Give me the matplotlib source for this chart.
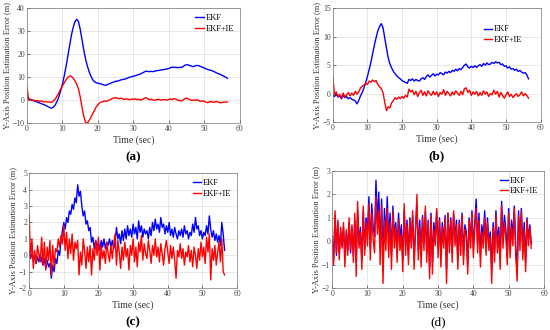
import matplotlib
matplotlib.use("Agg")
import matplotlib.pyplot as plt
import numpy as np

plt.rcParams['font.family'] = ['Liberation Serif', 'DejaVu Serif']

# (a) sampled every 0.5 s
a_ekf = [1.0, 0.6, 0.3, 0.0, -0.3, -0.6, -0.9, -1.2, -1.5, -1.8, -2.1, -2.5, -2.9, -3.3, -3.5, -3.0,
         -2.0, -0.5, 1.5, 4.0, 7.0, 10.5, 14.5, 19.0, 23.5, 28.0, 31.5, 34.0, 35.2, 34.3, 31.0, 26.5,
         22.0, 18.0, 15.0, 12.5, 10.5, 9.0, 8.0, 7.6, 7.4, 7.2, 7.0, 6.7, 6.5, 6.6, 7.0, 7.3,
         7.6, 7.9, 8.2, 8.3, 8.5, 8.8, 9.0, 9.1, 9.4, 9.7, 10.0, 10.2, 10.4, 10.6, 10.9, 11.1,
         11.4, 11.8, 12.2, 12.6, 12.5, 12.4, 12.5, 12.4, 12.6, 12.8, 12.9, 13.0, 13.2, 13.3, 13.4, 13.6,
         13.8, 14.1, 14.4, 14.2, 14.3, 14.1, 14.3, 14.2, 14.6, 15.2, 15.4, 15.3, 15.0, 14.7, 14.6, 15.0,
         15.1, 14.9, 14.6, 14.3, 14.0, 13.6, 13.3, 13.1, 12.9, 12.6, 12.2, 11.8, 11.5, 11.2, 10.8, 10.4,
         10.0, 9.5]
a_ie = [5.5, 0.3, 0.2, -0.2, 0.0, -0.3, -0.2, -0.5, -0.4, -0.6, -0.8, -0.7, -0.9, -0.8, -1.0, -0.3,
        0.5, 1.8, 3.2, 4.8, 6.2, 7.5, 8.8, 9.8, 10.5, 10.4, 9.6, 8.5, 7.0, 5.0, 1.5, -3.0,
        -7.0, -9.5, -10.0, -9.0, -7.5, -6.0, -4.5, -3.0, -2.0, -1.2, -0.8, -0.6, -0.3, -0.5, -0.1, 0.3,
        0.6, 0.9, 1.1, 0.8, 0.6, 0.9, 0.5, 0.3, 0.6, 0.4, 0.2, 0.5, 0.3, 0.6, 0.2, 0.4,
        0.0, 0.3, 0.7, 1.1, 0.6, 0.2, 0.4, 0.1, -0.1, 0.2, 0.4, 0.1, 0.0, 0.3, 0.2, 0.0,
        0.3, 0.5, 0.2, 0.7, 0.4, 0.0, -0.2, -0.4, 0.1, 0.6, 0.9, 0.5, 0.2, -0.2, 0.1, -0.1,
        0.2, -0.3, -0.5, -0.3, -0.6, -0.9, -1.1, -0.7, -0.6, -1.0, -0.8, -0.6, -0.9, -1.2, -1.0, -0.9,
        -0.8, -0.9]

# (b) sampled every 0.5 s
b_ekf = [-0.3, -0.5, -0.1, -0.6, -0.4, -0.9, -0.3, -0.7, -0.5, -0.9, -0.7, -1.0, -1.1, -1.3, -1.8, -1.2,
         -0.4, 0.2, 1.0, 1.9, 3.0, 4.2, 5.5, 7.0, 8.5, 9.8, 11.0, 11.8, 12.3, 11.6, 9.8, 8.0,
         6.3, 5.2, 4.5, 3.9, 3.5, 3.1, 2.8, 2.6, 2.3, 2.1, 2.0, 1.8, 2.5, 2.3, 2.6, 2.2,
         2.5, 2.3, 2.2, 2.6, 2.8, 2.5, 3.0, 3.3, 2.9, 3.2, 3.5, 3.1, 3.4, 3.3, 3.7, 3.5,
         3.3, 3.8, 3.6, 3.9, 3.7, 4.1, 3.9, 4.3, 4.0, 4.4, 4.2, 4.6, 5.0, 5.2, 4.7, 4.5,
         4.8, 4.6, 4.9, 4.6, 4.9, 5.1, 4.8, 5.3, 5.0, 5.4, 5.1, 5.2, 5.5, 5.3, 5.6, 5.4,
         5.5, 5.1, 5.2, 4.8, 4.9, 4.5, 4.7, 4.3, 4.4, 4.1, 4.3, 3.9, 4.1, 3.8, 3.6, 3.7,
         3.3, 2.6]
b_ie = [3.0, -0.2, 0.3, -0.5, -0.1, -0.8, 0.1, -0.6, -0.2, 0.2, -0.4, 0.1, -0.3, 0.4, -0.1, 0.3,
        1.0, 1.3, 1.5, 1.8, 1.6, 2.2, 2.0, 2.4, 2.1, 2.3, 1.6, 1.2, 0.9, 0.2, -1.5, -3.0,
        -2.3, -2.5, -1.6, -1.2, -0.7, -1.0, -0.6, -0.9, -0.5, -0.8, -0.3, -0.6, 0.8, 0.3, 0.6, -0.2,
        0.4, -0.5, 0.2, 0.6, -0.3, 0.3, -0.4, 0.5, 0.0, -0.3, 0.4, -0.2, 0.3, -0.5, 0.2, -0.1,
        0.7, -0.3, 0.4, 0.0, -0.4, 0.3, -0.2, 0.5, 0.1, -0.3, 0.4, -0.2, 0.9, 1.0, 0.2, 0.6,
        -0.3, 0.3, -0.1, 0.4, -0.4, 0.2, -0.3, 0.5, -0.1, 0.3, -0.5, 0.0, -0.2, 0.6, -0.1, 0.4,
        -0.6, 0.2, -0.3, -0.8, -0.2, 0.3, -0.5, -0.1, -0.7, -0.3, 0.0, -0.5, -0.2, 0.3, -0.4, 0.0,
        -0.3, -0.8]

# (c) sampled every 0.4 s
c_ekf = [0.3, -0.2, 0.1, -0.3, 0.0, -0.5, -0.1, -0.4, 0.1, -0.3,
         -0.6, -0.2, -0.8, -0.3, -0.7, -0.5, -1.4, -0.6, -1.0, -0.2,
         -0.5, 0.3, 0.0, 0.9, 1.5, 2.0, 1.6, 2.3, 2.0, 2.7,
         2.5, 3.1, 2.8, 3.5, 3.2, 4.3, 3.6, 3.9, 3.0, 2.4,
         2.7, 1.9, 2.1, 1.5, 1.7, 0.8, 1.1, 0.4, 0.9, 0.5,
         0.8, 0.3, 0.9, 0.5, 1.0, 0.4, 0.8, 0.6, 1.0, 0.5,
         0.9, 0.4, 0.8, 1.7, 1.0, 1.3, 0.7, 1.5, 0.9, 1.6,
         1.0, 1.8, 1.2, 1.6, 1.1, 1.9, 1.3, 1.7, 1.0, 2.1,
         1.4, 1.8, 1.1, 1.6, 1.3, 1.5, 1.0, 1.7, 1.2, 2.0,
         1.5, 2.2, 1.6, 1.9, 1.4, 2.3, 1.7, 1.9, 1.3, 1.8,
         1.4, 2.0, 1.2, 1.6, 1.1, 1.7, 1.3, 1.0, 1.5, 1.2,
         1.6, 1.1, 1.8, 1.3, 1.5, 1.0, 1.4, 1.2, 1.9, 1.4,
         2.3, 1.6, 1.8, 1.2, 1.5, 1.0, 1.4, 1.2, 1.8, 1.3,
         2.4, 1.6, 1.1, 1.5, 0.9, 1.3, 0.8, 1.2, 0.6, 2.0,
         1.3, 0.3]
c_ie = [2.5, -0.2, 1.0, -0.8, 0.3, -0.5, 0.6, 0.0, -0.4, 1.1,
        -0.6, 0.8, -0.9, 0.5, -0.3, 0.9, -1.2, 0.6, -0.7, 0.4,
        0.2, 1.0, 0.5, 1.2, 0.7, 1.8, 0.3, 1.4, -0.2, 1.0,
        0.1, 1.3, -0.3, 0.8, 0.4, 0.9, -1.2, 0.2, -0.6, 1.0,
        0.3, -0.8, 0.5, -0.4, 0.6, -1.2, 0.4, -0.3, 0.9, 0.0,
        1.1, -0.9, 0.6, -0.2, 0.3, -0.5, 0.8, 0.1, -0.4, 0.6,
        -0.2, 0.7, 1.3, -0.6, 0.9, 0.2, -0.8, 0.5, -0.3, 0.8,
        -0.1, 0.4, -0.9, 0.6, 0.0, 1.0, -0.4, 0.5, -0.7, 0.8,
        0.2, 1.2, -0.3, 0.7, 0.1, -0.2, 0.9, 0.3, -0.5, 0.6,
        0.0, 1.0, -0.1, 0.5, -0.4, 0.7, 0.1, -0.6, 0.4, 0.9,
        0.2, -0.5, 0.6, -0.2, 0.5, -0.3, -1.4, 0.3, -0.1, 0.7,
        -0.2, 0.4, -0.6, 0.2, -0.1, 0.6, -0.4, 0.3, -0.7, 0.5,
        0.0, -0.8, 0.4, -0.3, 0.8, -0.1, 0.5, -0.5, 1.1, 0.2,
        1.3, -1.5, 0.4, -0.3, 0.6, -0.6, 0.2, 0.8, -0.4, 1.0,
        -1.0, -1.2]

# (d) sampled every 0.4 s
d_ekf = [0.0, -0.8, 1.1, -0.6, 0.8, -0.5, 0.4, -0.2, 0.6, -0.7,
         0.4, -0.4, 0.8, -0.5, 0.6, -0.6, 0.9, -0.9, 1.3, -0.1,
         0.6, -0.8, 1.3, -0.3, 1.0, 0.4, 1.9, -0.3, 1.6, 0.6,
         0.2, 2.6, 0.8, 2.1, -0.3, 1.8, -0.6, 1.4, 0.2, 1.9,
         0.0, 1.2, -0.6, 1.5, 0.2, 0.8, -0.4, 1.2, 0.1, 0.7,
         -0.8, 1.3, -0.2, 0.9, -0.6, 1.0, 0.0, 1.1, -0.7, 0.5,
         1.6, -0.4, 0.9, -0.6, 1.1, -0.1, 1.3, -0.5, 0.9, -1.1,
         1.2, -0.9, 0.8, 0.1, 1.3, -0.3, 1.0, -0.6, 0.8, 0.0,
         1.1, -1.2, 1.2, -0.2, 1.0, -0.5, 1.2, 0.1, 0.9, -0.8,
         0.9, -0.2, 1.2, -0.6, 0.7, 0.4, -1.0, 1.0, 0.0, 1.3,
         -0.3, 0.8, 1.8, -0.1, 1.2, -0.6, 0.7, 0.1, 1.3, -0.2,
         1.0, -0.1, 0.4, -1.2, 0.8, -0.5, 1.3, -0.1, 0.6, -0.7,
         1.7, 0.1, 1.1, 0.5, -0.6, 1.4, -0.3, 0.9, 0.2, 1.5,
         -0.2, -1.3, 1.3, 0.0, 1.4, -0.4, 0.8, -0.9, 1.0, 0.1,
         0.7, -0.1]
d_ie = [0.2, -1.0, 1.3, -0.5, 0.9, -0.8, 0.6, -0.3, 0.8, -1.1,
        0.5, -0.6, 1.0, -0.4, 0.7, -0.9, 1.2, -1.5, 1.7, -0.3,
        0.4, -1.2, 1.5, -0.6, 0.8, -0.2, 1.6, -0.8, 1.2, 0.1,
        -0.5, 1.9, 0.3, 1.3, -1.0, 1.5, -1.8, 0.9, -0.4, 1.4,
        -0.7, 0.8, -1.2, 1.3, -0.3, 0.6, -0.9, 0.9, -0.4, 0.3,
        -1.3, 1.6, -0.6, 0.7, -1.0, 0.9, -0.3, 1.3, -1.2, 0.4,
        2.0, -0.8, 0.6, -1.1, 1.0, -0.4, 1.5, -0.9, 0.8, -1.6,
        1.1, -1.4, 0.5, -0.2, 1.4, -0.7, 0.9, -1.1, 0.6, -0.3,
        1.0, -1.8, 1.2, -0.5, 0.9, -0.9, 1.3, -0.2, 0.7, -1.2,
        0.8, -0.6, 1.1, -1.0, 0.5, 0.2, -1.4, 0.9, -0.3, 1.2,
        -0.7, 0.6, 1.4, -0.5, 0.9, -1.1, 0.4, -0.3, 1.0, -0.6,
        0.8, -0.4, 0.2, -1.8, 0.6, -0.9, 1.1, -0.5, 0.3, -1.2,
        1.5, -0.3, 0.8, 0.2, -1.0, 1.2, -0.7, 0.6, -0.2, 1.4,
        -0.6, -1.7, 1.1, -0.4, 1.3, -0.8, 0.5, -1.3, 0.9, -0.2,
        0.6, -0.3]

panels = [
    # ekf, ie, dt, ylim, yticks, rect, tag, bold tag, legend anchor
    (a_ekf, a_ie, 0.5, (-10, 40), range(-10, 41, 10), [0.049, 0.627, 0.387, 0.348], "(a)", True, (1.0, 1.0)),
    (b_ekf, b_ie, 0.5, (-5, 15), range(-5, 16, 5), [0.605, 0.630, 0.378, 0.345], "(b)", True, (0.94, 0.9)),
    (c_ekf, c_ie, 0.4, (-2, 5), range(-2, 6, 1), [0.053, 0.127, 0.378, 0.348], "(c)", True, (1.0, 1.0)),
    (d_ekf, d_ie, 0.4, (-2, 3), range(-2, 4, 1), [0.604, 0.127, 0.385, 0.355], "(d)", False, (1.0, 1.0)),
]

fig = plt.figure(figsize=(5.5, 3.3), dpi=100)

for ekf, ie, dt, ylim, yt, rect, tag, bold, anchor in panels:
    ax = fig.add_axes(rect)
    t1 = np.arange(len(ekf)) * dt
    t2 = np.arange(len(ie)) * dt
    ax.plot(t1, ekf, color="#0000ff", lw=1.0, label="EKF")
    ax.plot(t2, ie, color="#ff0000", lw=1.0, label="EKF+IE")
    ax.set_xlim(0, 60)
    ax.set_ylim(*ylim)
    ax.set_xticks(range(0, 61, 10))
    ax.set_yticks(list(yt))
    ax.grid(True, color="#dddddd", lw=0.5)
    ax.set_axisbelow(True)
    ax.tick_params(direction="in", length=2, width=0.5, labelsize=5.5,
                   colors="#444444", pad=1.5)
    for s in ax.spines.values():
        s.set_linewidth(0.5)
        s.set_color("#777777")
    ax.set_xlabel("Time (sec)", fontsize=7, labelpad=1.5, color="#333333")
    ax.set_ylabel("Y-Axis Position Estimation Error (m)", fontsize=6, labelpad=1,
                  color="#333333")
    ax.legend(loc="upper right", bbox_to_anchor=anchor, fontsize=6, frameon=False,
              handlelength=1.0, handletextpad=0.2, labelspacing=0.3, borderaxespad=0.3)
    cx = rect[0] + rect[2] / 2
    fig.text(cx, rect[1] - 0.085, tag, ha="center", va="top", fontsize=9.5,
             fontweight="bold" if bold else "normal")

fig.savefig("out.png", dpi=100)
